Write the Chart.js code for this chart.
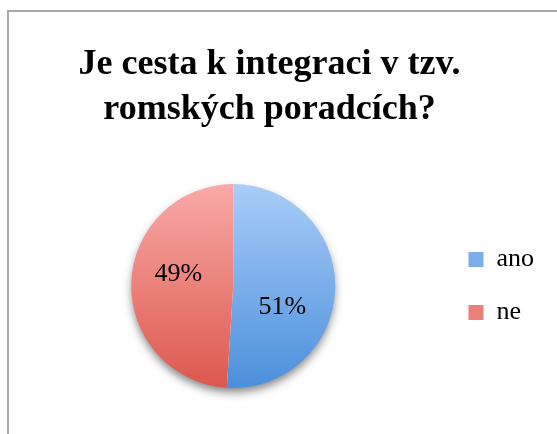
<!DOCTYPE html>
<html>
<head>
<meta charset="utf-8">
<script src="https://cdn.jsdelivr.net/npm/chart.js@4.4.1/dist/chart.umd.min.js"></script>
<style>
  body { margin: 0; background: #fff; }
  #frame {
    position: absolute; left: 7px; top: 10px; width: 560px; height: 440px;
    border-left: 2px solid #a9a9a9; border-top: 2px solid #a9a9a9;
  }
  #wrap { position: absolute; left: 0; top: 0; width: 557px; height: 434px; }
</style>
</head>
<body>
<div id="frame"></div>
<div id="wrap"><canvas id="pie"></canvas></div>
<script>
const titleLines = ['Je cesta k integraci v tzv.', 'romských poradcích?'];
const labels = ['ano', 'ne'];
const shares = [51, 49];
const topColors = ['#aacdf8', '#f9aaa8'];
const bottomColors = ['#4b90db', '#dc584d'];
const midColors = ['#7aaee9', '#ea807a'];
// small nudges for the value labels, like the best-fit placement in the original
const labelNudge = [[-2, 20], [-4, -10]];

const serif = "'Liberation Serif', 'DejaVu Serif', serif";

function sliceFill(ctx) {
    const area = ctx.chart.chartArea;
    if (!area || !isFinite(area.top) || !isFinite(area.bottom)) return midColors[ctx.dataIndex];
    const cy = (area.top + area.bottom) / 2;
    const r = Math.min(area.right - area.left, area.bottom - area.top) / 2;
    const g = ctx.chart.ctx.createLinearGradient(0, cy - r, 0, cy + r);
    g.addColorStop(0, topColors[ctx.dataIndex]);
    g.addColorStop(1, bottomColors[ctx.dataIndex]);
    return g;
}

// title sits over the plot + legend text, not over the whole legend box
const titleShift = {
    id: 'titleShift',
    afterLayout(chart) {
        chart.titleBlock.right -= 30;
    }
};

const pieShadow = {
    id: 'pieShadow',
    beforeDatasetsDraw(chart) {
        const arc = chart.getDatasetMeta(0).data[0];
        if (!arc) return;
        const c = chart.ctx;
        c.save();
        c.shadowColor = 'rgba(0,0,0,0.5)';
        c.shadowBlur = 10;
        c.shadowOffsetY = 5;
        c.fillStyle = '#ffffff';
        c.beginPath();
        c.arc(arc.x, arc.y, arc.outerRadius - 1, 0, Math.PI * 2);
        c.fill();
        c.restore();
    }
};

const valueLabels = {
    id: 'valueLabels',
    afterDatasetsDraw(chart) {
        const c = chart.ctx;
        const meta = chart.getDatasetMeta(0);
        c.save();
        c.font = "26px " + serif;
        c.fillStyle = '#000';
        c.textAlign = 'center';
        c.textBaseline = 'middle';
        meta.data.forEach((arc, i) => {
            const p = arc.tooltipPosition();
            c.fillText(shares[i] + '%', p.x + labelNudge[i][0], p.y + labelNudge[i][1]);
        });
        c.restore();
    }
};

new Chart(document.getElementById('pie'), {
    type: 'pie',
    data: {
        labels: labels,
        datasets: [{
            data: shares,
            backgroundColor: sliceFill,
            borderWidth: 0
        }]
    },
    options: {
        responsive: true,
        maintainAspectRatio: false,
        animation: false,
        layout: { padding: { left: 25, right: 13, top: 0, bottom: 46 } },
        plugins: {
            title: {
                display: true,
                text: titleLines,
                color: '#000',
                font: { family: serif, size: 36, weight: 'bold', lineHeight: 1.25 },
                padding: { top: 42, bottom: 52 }
            },
            legend: {
                position: 'right',
                fullSize: false,
                labels: {
                    boxWidth: 15,
                    boxHeight: 15,
                    padding: 27,
                    color: '#000',
                    font: { family: serif, size: 26 },
                    generateLabels(chart) {
                        return labels.map((l, i) => ({
                            text: l,
                            fillStyle: midColors[i],
                            strokeStyle: midColors[i],
                            lineWidth: 0,
                            fontColor: '#000',
                            index: i
                        }));
                    }
                }
            },
            tooltip: { enabled: false }
        }
    },
    plugins: [titleShift, pieShadow, valueLabels]
});
</script>
</body>
</html>
